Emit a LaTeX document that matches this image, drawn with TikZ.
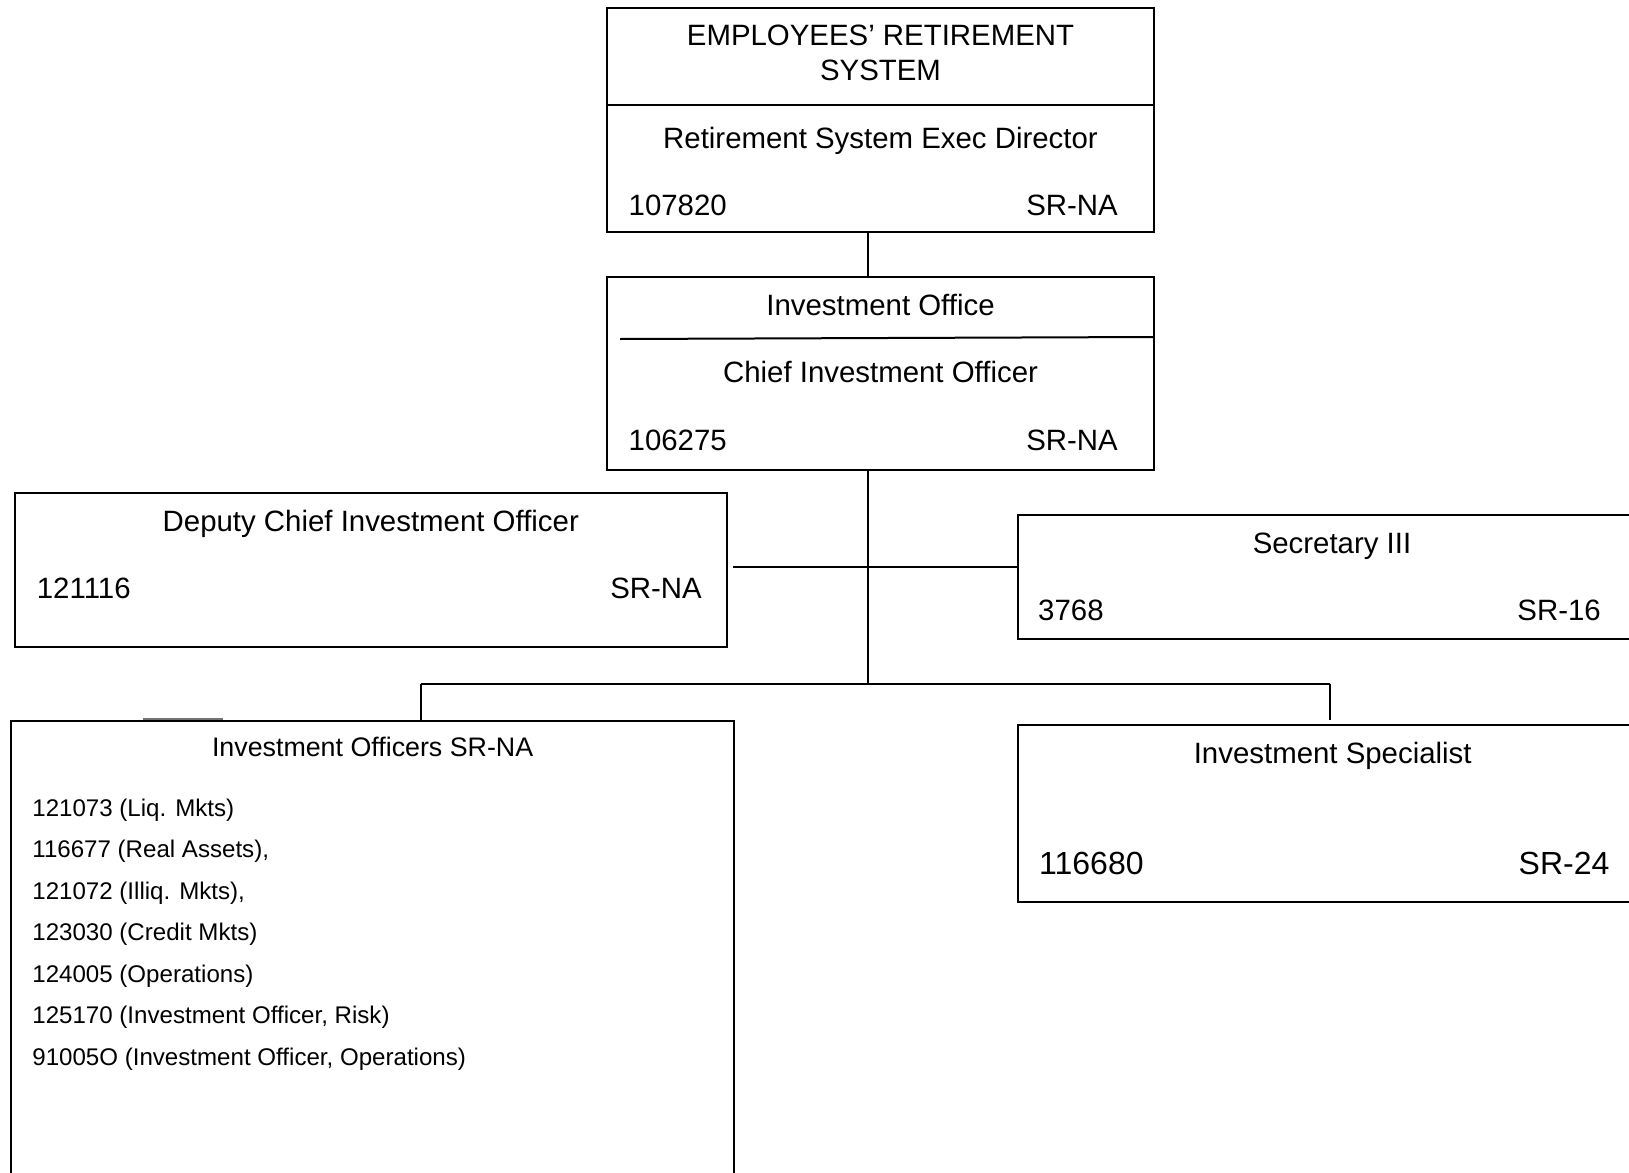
\documentclass[tikz,border=0pt]{standalone}
\usepackage{fontspec}
\setmainfont{Liberation Sans}
\tikzset{
  box/.style={draw=black, line width=2pt, rectangle, inner sep=0pt, fill=none},
  conn/.style={draw=black, line width=2pt},
  tmain/.style={font=\fontsize{29.4}{35}\selectfont, inner sep=0pt},
  tbigger/.style={font=\fontsize{32}{38}\selectfont, inner sep=0pt},
  thead/.style={font=\fontsize{26.8}{31}\selectfont, inner sep=0pt},
  tlist/.style={font=\fontsize{24.1}{28}\selectfont, inner sep=0pt, anchor=base west},
}
\begin{document}
\begin{tikzpicture}[x=1pt,y=-1pt]
\useasboundingbox (0,0) rectangle (1629,1172);
\fill[white] (0,0) rectangle (1629,1172);
\clip (0,0) rectangle (1629,1172);

% boxes
\node[box, minimum width=547pt, minimum height=224pt] (ers) at (880.5,120.3) {};
\node[box, minimum width=547pt, minimum height=193pt] (cio) at (880.5,373.5) {};
\node[box, minimum width=712.5pt, minimum height=153.7pt] (dep) at (370.75,569.85) {};
\node[box, minimum width=642pt, minimum height=124.3pt] (sec) at (1339,577.15) {};
\node[box, minimum width=723.3pt, minimum height=479pt] (io) at (372.65,960.5) {};
\node[box, minimum width=642pt, minimum height=176.7pt] (spec) at (1339,813.35) {};

% dividers
\coordinate (d1l) at (607,105);
\coordinate (d1r) at (1154,105);
\draw[conn] (d1l) -- (d1r);
\coordinate (d2l) at (620,339);
\coordinate (d2r) at (1154,337);
\draw[conn] (d2l) -- (d2r);

% texts: top box
\node[tmain, anchor=base] (ersA) at (880.5,46) {EMPLOYEES’ RETIREMENT};
\node[tmain, anchor=base] (ersB) at (880.5,80) {SYSTEM};
\node[tmain, anchor=base] (ersC) at (880.5,148.3) {Retirement System Exec Director};
\node[tmain, anchor=base west] (ersD) at (628.5,215) {107820};
\node[tmain, anchor=base east] (ersE) at (1118,215) {SR-NA};

% texts: investment office
\node[tmain, anchor=base] (cioA) at (880.5,315.7) {Investment Office};
\node[tmain, anchor=base] (cioB) at (880.5,382) {Chief Investment Officer};
\node[tmain, anchor=base west] (cioC) at (628.5,450) {106275};
\node[tmain, anchor=base east] (cioD) at (1118,450) {SR-NA};

% texts: deputy
\node[tmain, anchor=base] (depA) at (370.75,531.7) {Deputy Chief Investment Officer};
\node[tmain, anchor=base west] (depB) at (36.7,598.3) {121116};
\node[tmain, anchor=base east] (depC) at (702,598.3) {SR-NA};

% texts: secretary
\node[tmain, anchor=base] (secA) at (1332,553) {Secretary III};
\node[tmain, anchor=base west] (secB) at (1038,620.7) {3768};
\node[tmain, anchor=base east] (secC) at (1601,620.7) {SR-16};

% texts: specialist
\node[tmain, anchor=base] (specA) at (1332.7,763) {Investment Specialist};
\node[tbigger, anchor=base west] (specB) at (1039,874) {116680};
\node[tbigger, anchor=base east] (specC) at (1609.6,874) {SR-24};

% texts: investment officers
\node[thead, anchor=base] (ioA) at (372.6,756.5) {Investment Officers SR-NA};
\node[tlist] (io1) at (32.2,816) {121073 (Liq. Mkts)};
\node[tlist] (io2) at (32.2,857.5) {116677 (Real Assets),};
\node[tlist] (io3) at (32.2,899) {121072 (Illiq. Mkts),};
\node[tlist] (io4) at (32.2,940.5) {123030 (Credit Mkts)};
\node[tlist] (io5) at (32.2,982) {124005 (Operations)};
\node[tlist] (io6) at (32.2,1023.5) {125170 (Investment Officer, Risk)};
\node[tlist] (io7) at (32.2,1065) {91005O (Investment Officer, Operations)};

% connectors
\coordinate (trunk) at (868,0);
\coordinate (j1) at (868,684);
\draw[conn] (ers.south -| trunk) -- (cio.north -| trunk);
\draw[conn] (cio.south -| trunk) -- (j1);
\coordinate (hl) at (733.3,567.3);
\draw[conn] (hl) -- (hl -| sec.west);
\coordinate (jL) at (421,684);
\coordinate (jR) at (1330,684);
\coordinate (jRe) at (1330,720);
\draw[conn] (jL) -- (jR);
\draw[conn] (jL) -- (io.north -| jL);
\draw[conn] (jR) -- (jRe);

% stray grey stroke above the officers box
\coordinate (g1) at (143,719.3);
\coordinate (g2) at (222.7,719.3);
\draw[draw=black!55, line width=2pt] (g1) -- (g2);
\end{tikzpicture}
\end{document}
